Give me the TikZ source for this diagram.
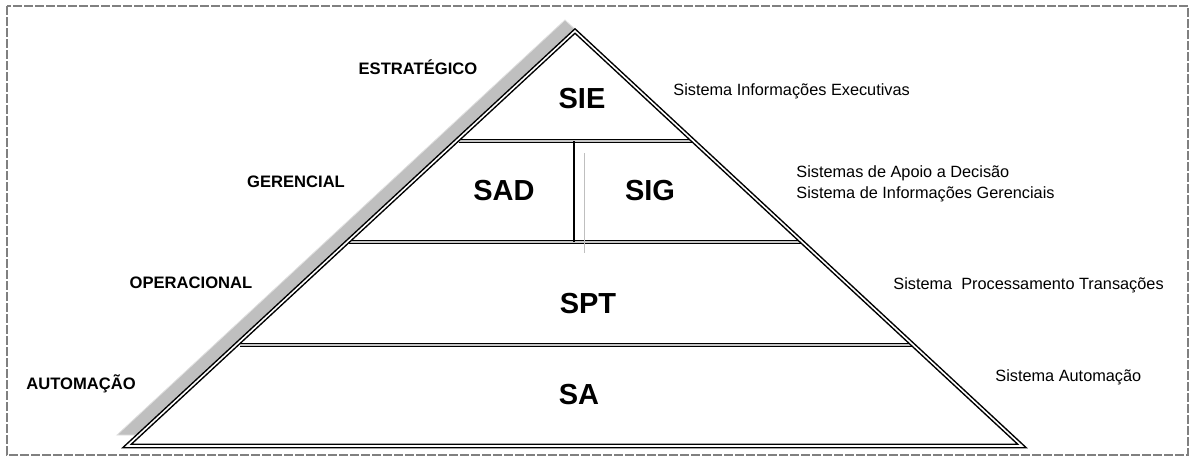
\documentclass[tikz,border=0pt]{standalone}
\usepackage{fontspec}
\setmainfont{Liberation Sans}
\usetikzlibrary{calc}
\begin{document}
\begin{tikzpicture}[x=0.5pt,y=-0.5pt,
  frame/.style={draw=gray,line width=1pt,dash pattern=on 4.5pt off 1pt},
  pyr/.style={draw=black,line width=0.75pt,double=white,double distance=0.8pt},
  divider/.style={draw=black,line width=0.75pt,double=gray!45,double distance=0.8pt},
  shadow/.style={fill=gray!50,draw=gray!25,line width=0.4pt},
  level/.style={font=\fontsize{8.3}{10}\selectfont\bfseries,anchor=base,inner sep=0pt},
  sysname/.style={font=\fontsize{14.5}{17}\selectfont\bfseries,anchor=base,inner sep=0pt},
  desc/.style={font=\fontsize{8.15}{9.8}\selectfont,anchor=base west,inner sep=0pt}]
\useasboundingbox (0,0) rectangle (1190,457);
\draw[frame] (7,6) rectangle (1188,455);
% pyramid corners
\coordinate (A) at (575,31);
\coordinate (BL) at (127,446);
\coordinate (BR) at (1022,446);
% shadow
\path[shadow] ($(A)+(-10,-11)$) -- ($(BL)+(-10,-11)$) -- ($(BR)+(-10,-11)$) -- cycle;
% body
\fill[white] (A) -- (BL) -- (BR) -- cycle;
% dividers
\coordinate (d1l) at (459,141); \coordinate (d1r) at (695,141);
\coordinate (d2l) at (349,242); \coordinate (d2r) at (801,242);
\coordinate (d3l) at (240,345); \coordinate (d3r) at (912,345);
\draw[divider] (d1l) -- (d1r);
\draw[divider] (d2l) -- (d2r);
\draw[divider] (d3l) -- (d3r);
\coordinate (v1) at (574,141); \coordinate (v2) at (574,242);
\draw[line width=0.6pt] (v1) -- (v2);
\coordinate (g1) at (584,153); \coordinate (g2) at (584,253);
\draw[gray!50,line width=0.4pt] (g1) -- (g2);
% outline
\draw[pyr,line join=miter] (A) -- (BL) -- (BR) -- cycle;
% system names
\node[sysname] (sie) at (582,108) {SIE};
\node[sysname] (sad) at (504,200) {SAD};
\node[sysname] (sig) at (650,200) {SIG};
\node[sysname] (spt) at (588,313) {SPT};
\node[sysname] (sa) at (579,404) {SA};
% levels
\node[level] (est) at (418,74) {ESTRATÉGICO};
\node[level] (ger) at (296,187) {GERENCIAL};
\node[level] (ope) at (191,288) {OPERACIONAL};
\node[level] (aut) at (81,389) {AUTOMAÇÃO};
% descriptions
\node[desc] (dsie) at (673,95) {Sistema Informações Executivas};
\node[desc] (dsad) at (796,177) {Sistemas de Apoio a Decisão};
\node[desc] (dsig) at (796,198) {Sistema de Informações Gerenciais};
\node[desc] (dspt) at (893,289) {Sistema\ \ Processamento Transações};
\node[desc] (dsa) at (995,381) {Sistema Automação};
\end{tikzpicture}
\end{document}
